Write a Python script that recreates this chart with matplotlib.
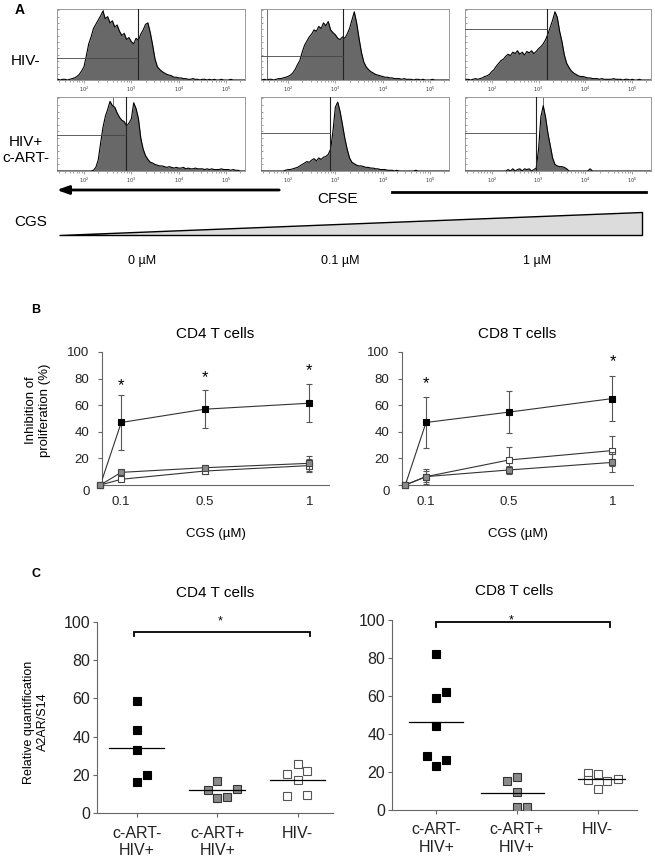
import numpy as np
import matplotlib
matplotlib.use('Agg')
import matplotlib.pyplot as plt
from matplotlib.patches import Polygon

plt.rcParams['font.family'] = ['Liberation Sans', 'DejaVu Sans']

# ---------------- data ----------------
# A: CFSE histograms, height as fraction of the panel, sampled every 0.05 log10 unit from 10^1.45
hist_start, hist_step = 1.45, 0.05
hiv_neg_0 = [0.01, 0.0, 0.01, 0.01, 0.0, 0.01, 0.02, 0.03, 0.05, 0.08, 0.13,
             0.19, 0.35, 0.52, 0.62, 0.74, 0.80, 0.86, 0.92, 0.99, 0.88,
             0.91, 0.82, 0.85, 0.76, 0.79, 0.70, 0.64, 0.67, 0.58, 0.61,
             0.55, 0.52, 0.60, 0.57, 0.66, 0.72, 0.80, 0.82, 0.68, 0.50,
             0.30, 0.19, 0.15, 0.12, 0.10, 0.08, 0.07, 0.06, 0.04, 0.04,
             0.03, 0.03, 0.02, 0.02, 0.01,
             0.01, 0.02, 0.01, 0.01, 0.0, 0.01, 0.01, 0.0, 0.01, 0.0, 0.01, 0.0,
             0.0, 0.01, 0.0, 0.0, 0.0, 0.01, 0.0, 0.0, 0.0, 0.0, 0.0, 0.0]
hiv_neg_01 = [0.0, 0.01, 0.0, 0.01, 0.01, 0.0, 0.01, 0.02, 0.02, 0.03, 0.04,
              0.05, 0.07, 0.10, 0.15, 0.22, 0.28, 0.40, 0.50, 0.56, 0.62,
              0.66, 0.72, 0.70, 0.77, 0.74, 0.82, 0.78, 0.84, 0.72, 0.68,
              0.65, 0.60, 0.58, 0.62, 0.60, 0.66, 0.74, 0.86, 0.98, 0.82,
              0.60, 0.40, 0.26, 0.19, 0.15, 0.12, 0.10, 0.08, 0.07, 0.06,
              0.05, 0.04, 0.04, 0.03, 0.03, 0.02, 0.02, 0.02, 0.01, 0.02,
              0.01, 0.01, 0.01, 0.0, 0.01, 0.01, 0.0, 0.01, 0.0, 0.0,
              0.0, 0.01, 0.0, 0.0, 0.0, 0.0, 0.0, 0.0, 0.0]
hiv_neg_1 = [0.01, 0.01, 0.0, 0.01, 0.02, 0.01, 0.02, 0.03, 0.05, 0.06, 0.08,
             0.12, 0.15, 0.20, 0.24, 0.28, 0.30, 0.34, 0.37, 0.35, 0.40,
             0.38, 0.42, 0.37, 0.40, 0.36, 0.41, 0.39, 0.42, 0.38, 0.41,
             0.45, 0.48, 0.52, 0.58, 0.66, 0.76, 0.86, 0.98, 0.90, 0.70,
             0.55, 0.36, 0.24, 0.18, 0.13, 0.10, 0.08, 0.06, 0.05, 0.05,
             0.04, 0.03, 0.03, 0.02, 0.02, 0.02, 0.01, 0.02, 0.01, 0.01,
             0.01, 0.01, 0.02, 0.01, 0.01, 0.01, 0.0, 0.01, 0.01, 0.0,
             0.01, 0.0, 0.0, 0.01, 0.0, 0.0, 0.0, 0.0, 0.0]
hiv_pos_0 = [0.0, 0.0, 0.0, 0.0, 0.0, 0.0, 0.0, 0.0, 0.0, 0.0, 0.0,
             0.0, 0.0, 0.0, 0.0, 0.01, 0.05, 0.15, 0.38, 0.60, 0.75,
             0.85, 0.96, 0.90, 0.88, 0.80, 0.74, 0.70, 0.68, 0.62, 0.66,
             0.72, 0.94, 0.86, 0.72, 0.45, 0.30, 0.21, 0.16, 0.12, 0.11,
             0.09, 0.08, 0.07, 0.07, 0.06, 0.05, 0.06, 0.05, 0.04, 0.05,
             0.04, 0.04, 0.05, 0.03, 0.04, 0.03, 0.03, 0.04, 0.03, 0.03,
             0.03, 0.02, 0.03, 0.02, 0.03, 0.02, 0.02, 0.02, 0.03, 0.02,
             0.02, 0.02, 0.01, 0.02, 0.01, 0.01, 0.0, 0.0, 0.0]
hiv_pos_01 = [0.0, 0.0, 0.0, 0.0, 0.0, 0.0, 0.0, 0.0, 0.0, 0.0, 0.01,
              0.02, 0.02, 0.03, 0.04, 0.05, 0.07, 0.09, 0.11, 0.13, 0.12,
              0.15, 0.17, 0.14, 0.18, 0.16, 0.19, 0.20, 0.23, 0.30, 0.55,
              0.88, 0.95, 0.82, 0.64, 0.45, 0.30, 0.18, 0.12, 0.10, 0.08,
              0.07, 0.07, 0.06, 0.05, 0.05, 0.04, 0.04, 0.03, 0.03, 0.02,
              0.02, 0.02, 0.01, 0.01, 0.01, 0.0, 0.01, 0.0, 0.0, 0.0,
              0.0, 0.0, 0.0, 0.0, 0.01, 0.0, 0.0, 0.0, 0.0, 0.0,
              0.0, 0.0, 0.0, 0.0, 0.0, 0.0, 0.0, 0.0, 0.0]
hiv_pos_1 = [0.0, 0.0, 0.0, 0.0, 0.0, 0.0, 0.0, 0.0, 0.0, 0.0, 0.0,
             0.0, 0.0, 0.0, 0.0, 0.0, 0.0, 0.0, 0.02, 0.0, 0.03,
             0.0, 0.02, 0.03, 0.0, 0.03, 0.02, 0.03, 0.0, 0.02, 0.04,
             0.30, 0.75, 0.90, 0.74, 0.52, 0.35, 0.18, 0.09, 0.07, 0.06,
             0.06, 0.05, 0.03, 0.0, 0.0, 0.0, 0.0, 0.0, 0.0, 0.0,
             0.0, 0.0, 0.03, 0.0, 0.0, 0.0, 0.0, 0.0, 0.0, 0.0,
             0.0, 0.0, 0.0, 0.0, 0.0, 0.0, 0.0, 0.0, 0.0, 0.0,
             0.0, 0.0, 0.0, 0.0, 0.0, 0.0, 0.0, 0.0, 0.0]
histograms = [[hiv_neg_0, hiv_neg_01, hiv_neg_1],
              [hiv_pos_0, hiv_pos_01, hiv_pos_1]]
row_labels = ['HIV-', 'HIV+\nc-ART-']
conc_labels = ['0 µM', '0.1 µM', '1 µM']
gate_x = [[3.15, 3.17, 3.17], [2.89, 2.88, 2.95]]      # log10 CFSE
gate_y = [[0.31, 0.34, 0.73], [0.50, 0.52, 0.52]]
extra_marker = [[2.41, 1.55, None], [2.62, None, 3.10]]

# B: inhibition of proliferation (%)
cgs_conc = [0, 0.1, 0.5, 1]
cd4_art_neg = [0, 47, 57, 61.5]
cd4_art_neg_err = [0, 20.6, 14.5, 14.4]
cd4_art_pos = [0, 9.5, 13, 16.3]
cd4_art_pos_err = [0, 2, 2, 5.7]
cd4_hiv_neg = [0, 4.3, 10.5, 14.6]
cd4_hiv_neg_err = [0, 1.5, 2, 5]
cd4_star_x = [0.1, 0.5, 1]
cd4_star_y = [79, 85, 90]

cd8_art_neg = [0, 47, 54.8, 65]
cd8_art_neg_err = [0, 19.5, 16, 17]
cd8_art_pos = [0, 6.3, 11.3, 17]
cd8_art_pos_err = [0, 4, 3, 7.5]
cd8_hiv_neg = [0, 6.3, 18.8, 25.9]
cd8_hiv_neg_err = [0, 5.7, 9.6, 11.3]
cd8_star_x = [0.1, 1]
cd8_star_y = [80.4, 96.7]

# C: relative quantification A2AR/S14
groups = ['c-ART-\nHIV+', 'c-ART+\nHIV+', 'HIV-']
c4_art_neg = [58.6, 43.3, 32.8, 16.2, 19.7]
c4_art_pos = [11.9, 16.8, 8.0, 8.4, 12.6]
c4_hiv_neg = [20.6, 25.5, 22.0, 17.5, 9.1, 9.6]
c4_median = [34.2, 11.9, 17.5]
c8_art_neg = [82.1, 62.3, 58.8, 44.4, 28.4, 26.3, 23.2]
c8_art_pos = [15.3, 17.2, 9.3, 1.4, 1.8]
c8_hiv_neg = [19.3, 18.9, 15.8, 11.2, 15.1, 16.3]
c8_median = [46.5, 8.8, 16.1]

# layout: horizontal dodge of the dots inside each group, median line extents
c4_dodge = [[0, 0, 0, 0, 0.12], [-0.12, 0, 0, 0.12, 0.24], [-0.13, 0, 0.12, 0, -0.13, 0.12]]
c8_dodge = [[0, 0.12, 0, 0, -0.12, 0.12, 0], [-0.12, 0, 0, 0, 0.12], [-0.12, 0, -0.12, 0, 0.12, 0.25]]
c4_med_ext = [(-0.35, 0.34), (-0.36, 0.34), (-0.34, 0.34)]
c8_med_ext = [(-0.34, 0.33), (-0.45, 0.33), (-0.24, 0.34)]

# ---------------- figure ----------------
W, H = 655, 860
fig = plt.figure(figsize=(W / 100, H / 100), dpi=100)


def px_axes(l, t, r, b):
    return fig.add_axes([l / W, 1 - b / H, (r - l) / W, (b - t) / H])


FILL = '#686868'
GRAY = '#8a8a8a'

# ----- A: histograms -----
rows = [(9, 80), (97, 171)]
cols = [(57, 245), (261, 449), (465, 651)]
for r, (t, b) in enumerate(rows):
    for c, (l, rr) in enumerate(cols):
        ax = px_axes(l, t, rr, b)
        h = np.array(histograms[r][c])
        lx = hist_start + hist_step * np.arange(len(h))
        xs = 10 ** lx
        ax.set_xscale('log')
        ax.set_xlim(10 ** 1.43, 10 ** 5.40)
        ax.set_ylim(0, 1.02)
        if extra_marker[r][c] is not None:
            ax.axvline(10 ** extra_marker[r][c], color='#555555', lw=0.6, zorder=1)
        ax.fill_between(xs, 0, h, color=FILL, lw=0, zorder=2)
        ax.plot(xs, h, color='black', lw=0.8, zorder=3)
        gx = 10 ** gate_x[r][c]
        ax.axvline(gx, color='#222222', lw=0.8, zorder=4)
        ax.plot([10 ** 1.43, gx], [gate_y[r][c]] * 2, color='#444444', lw=0.6, zorder=4)
        for s in ax.spines.values():
            s.set_color('#999999')
            s.set_linewidth(0.7)
        ax.set_xticks([1e2, 1e3, 1e4, 1e5])
        ax.set_xticklabels([r'$10^{2}$', r'$10^{3}$', r'$10^{4}$', r'$10^{5}$'],
                           fontsize=3.5, color='#333333')
        ax.tick_params(axis='x', which='major', length=2, width=0.4, pad=1.5, color='#555555')
        ax.tick_params(axis='x', which='minor', length=1.2, width=0.4, color='#555555')
        ax.set_yticks(np.linspace(0, 1, 12))
        ax.tick_params(axis='y', direction='in', length=1.5, width=0.4, labelleft=False,
                       color='#555555')

# ----- B: proliferation -----
def prolif_panel(l, t, r, b, xlim, series, stars, title):
    ax = px_axes(l, t, r, b)
    ax.set_xlim(*xlim)
    ax.set_ylim(0, 100)
    for (vals, err, face, edge, z) in series:
        ax.errorbar(cgs_conc, vals, yerr=err, fmt='-', color='#333333', lw=0.8,
                    ecolor='#555555', elinewidth=0.8, capsize=2, capthick=0.8, zorder=z)
        ax.plot(cgs_conc, vals, 's', ms=4.6, mfc=face, mec=edge, mew=0.8,
                clip_on=False, zorder=z + 0.5)
    sx, sy = stars
    for x, y in zip(sx, sy):
        ax.annotate('*', (x, y), xytext=(0, -7), textcoords='offset points',
                    ha='center', va='baseline', fontsize=12, annotation_clip=False)
    for s in ['top', 'right']:
        ax.spines[s].set_visible(False)
    for s in ['left', 'bottom']:
        ax.spines[s].set_color('#666666')
        ax.spines[s].set_linewidth(0.8)
    ax.set_yticks([0, 20, 40, 60, 80, 100])
    ax.set_yticklabels(['', '20', '40', '60', '80', '100'])
    ax.annotate('0', (0, 0), xycoords=('axes fraction', 'data'), xytext=(-9, -5),
                textcoords='offset points', ha='right', va='center', fontsize=9.5,
                color='#222222', annotation_clip=False)
    ax.set_xticks([0.1, 0.5, 1])
    ax.set_xticklabels(['0.1', '0.5', '1'])
    ax.tick_params(axis='y', length=3, width=0.8, color='#666666', pad=6,
                   labelsize=9.5, labelcolor='#222222')
    ax.tick_params(axis='x', length=0, pad=8, labelsize=9.5, labelcolor='#222222')
    ax.set_title(title, fontsize=11, pad=10)
    ax.set_xlabel('CGS (µM)', fontsize=9.5, labelpad=14)
    return ax


prolif_panel(102, 352, 329, 485, (0.008, 1.094),
             [(cd4_art_neg, cd4_art_neg_err, 'black', 'black', 3),
              (cd4_hiv_neg, cd4_hiv_neg_err, 'white', '#444444', 4),
              (cd4_art_pos, cd4_art_pos_err, GRAY, '#444444', 5)],
             (cd4_star_x, cd4_star_y), 'CD4 T cells')
prolif_panel(402, 352, 633, 485, (-0.016, 1.099),
             [(cd8_art_neg, cd8_art_neg_err, 'black', 'black', 3),
              (cd8_hiv_neg, cd8_hiv_neg_err, 'white', '#444444', 4),
              (cd8_art_pos, cd8_art_pos_err, GRAY, '#444444', 5)],
             (cd8_star_x, cd8_star_y), 'CD8 T cells')

# ----- C: A2AR expression -----
def dot_panel(l, t, r, b, xlim, groups_vals, dodge, medians, med_ext, bracket, star, title):
    ax = px_axes(l, t, r, b)
    ax.set_xlim(*xlim)
    ax.set_ylim(0, 100)
    styles = [('black', 'black'), (GRAY, '#333333'), ('white', '#555555')]
    for i, vals in enumerate(groups_vals):
        xs = [i + d for d in dodge[i]]
        face, edge = styles[i]
        ax.plot(xs, vals, 's', ms=5.3, mfc=face, mec=edge, mew=0.8, ls='none', zorder=3)
        lo, hi = med_ext[i]
        ax.plot([i + lo, i + hi], [medians[i]] * 2, color='black', lw=0.9, zorder=4)
    x0, x1, ytop, ylow = bracket
    ax.plot([x0, x0, x1, x1], [ylow, ytop, ytop, ylow], color='black', lw=1.3,
            clip_on=False, solid_joinstyle='miter')
    ax.annotate('*', star, xytext=(0, -5), textcoords='offset points',
                ha='center', va='baseline', fontsize=9, annotation_clip=False)
    for s in ['top', 'right']:
        ax.spines[s].set_visible(False)
    for s in ['left', 'bottom']:
        ax.spines[s].set_color('#666666')
        ax.spines[s].set_linewidth(0.8)
    ax.set_yticks([0, 20, 40, 60, 80, 100])
    ax.set_xticks([0, 1, 2])
    ax.set_xticklabels(groups)
    ax.tick_params(axis='both', length=3, width=0.8, color='#666666',
                   labelsize=11.5, labelcolor='#222222')
    ax.tick_params(axis='y', pad=2)
    ax.tick_params(axis='x', pad=6)
    ax.set_title(title, fontsize=11, pad=18)
    return ax


dot_panel(97, 622, 333, 813, (-0.5, 2.44),
          [c4_art_neg, c4_art_pos, c4_hiv_neg], c4_dodge, c4_median, c4_med_ext,
          (-0.04, 2.15, 95, 92.5), (1.03, 102.6), 'CD4 T cells')
dot_panel(392, 620, 637, 810, (-0.55, 2.49),
          [c8_art_neg, c8_art_pos, c8_hiv_neg], c8_dodge, c8_median, c8_med_ext,
          (0.0, 2.16, 98.8, 96.5), (0.93, 101.8), 'CD8 T cells')

# ----- overlay: labels, arrow, wedge -----
ov = fig.add_axes([0, 0, 1, 1])
ov.set_xlim(0, W)
ov.set_ylim(H, 0)
ov.axis('off')

ov.text(20, 10, 'A', fontsize=10, fontweight='bold', ha='center', va='center')
ov.text(36, 310, 'B', fontsize=9, fontweight='bold', ha='center', va='center')
ov.text(36, 574, 'C', fontsize=9, fontweight='bold', ha='center', va='center')

ov.text(25, 61, row_labels[0], fontsize=11, ha='center', va='center')
ov.text(26, 150, row_labels[1], fontsize=11, ha='center', va='center', linespacing=1.1)

ov.annotate('', xy=(54, 190), xytext=(282, 190),
            arrowprops=dict(arrowstyle='-|>,head_length=0.7,head_width=0.25',
                            color='black', lw=2))
ov.plot([392, 646], [192, 192], color='black', lw=2)
ov.text(337, 199, 'CFSE', fontsize=11, ha='center', va='center')

ov.text(31, 222, 'CGS', fontsize=11, ha='center', va='center')
ov.add_patch(Polygon([(59, 235), (642, 235), (642, 212)], closed=True,
                     facecolor='#dcdcdc', edgecolor='black', lw=1))
for xc, lab in zip([142, 340, 537], conc_labels):
    ov.text(xc, 261, lab, fontsize=9, ha='center', va='center')

ov.text(38, 410, 'Inhibition of\nproliferation (%)', fontsize=9.5, rotation=90,
        ha='center', va='center', linespacing=1.15)
ov.text(36, 722, 'Relative quantification\nA2AR/S14', fontsize=9, rotation=90,
        ha='center', va='center', linespacing=1.3)

fig.savefig('out.png', dpi=100)
